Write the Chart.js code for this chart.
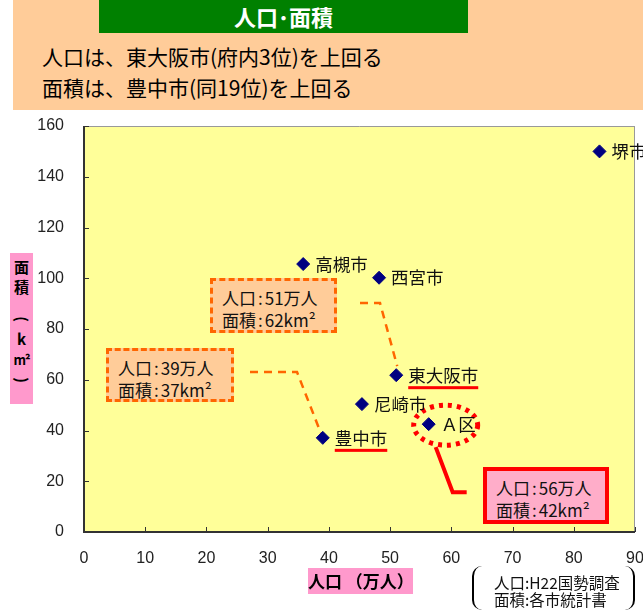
<!DOCTYPE html>
<html>
<head>
<meta charset="utf-8">
<script src="https://cdn.jsdelivr.net/npm/chart.js@4"></script>
<style>
  html, body { margin: 0; padding: 0; background: #fff; }
  #wrap { position: relative; width: 643px; height: 612px; overflow: hidden; font-family: "Noto Sans CJK JP", sans-serif; }
  #c { position: absolute; left: 0; top: 0; }
  .abs { position: absolute; white-space: nowrap; }
  #band { left: 13px; top: 0; width: 630px; height: 110px; background: #FFCC99; }
  #title { left: 99px; top: 0; width: 369px; height: 33px; background: #008000; color: #fff; font-weight: bold; font-size: 22px; line-height: 33px; text-align: center; }
  .sub { left: 42px; font-size: 21px; line-height: 30px; color: #000; }
  .callout { font-size: 17px; line-height: 22px; color: #111; padding: 6px 0 0 9px; box-sizing: border-box; }
  .callout .c { margin: 0 2px; }
  .orange { background: #FFCC99; border: 3px dashed #FF6600; }
  .red { background: #FFADC9; border: 4px solid #FF0000; }
  #ytitle { left: 10px; top: 253px; width: 23px; height: 151px; background: #FF99CC; font-weight: bold; font-size: 15px; line-height: 20px; text-align: center; color: #000; }
  #ytitle .r { display: inline-block; transform: rotate(90deg); }
  #ytitle .m { font-size: 13px; letter-spacing: -1px; }
  #xtitle { left: 308px; top: 568px; width: 105px; height: 26px; background: #FF99CC; font-weight: bold; font-size: 17px; line-height: 26px; text-align: center; color: #000; }
  #note { left: 472px; top: 566px; width: 163px; height: 44px; border-left: 2px solid #000; border-right: 2px solid #000; border-radius: 10px; box-sizing: border-box; font-size: 15.5px; line-height: 17px; padding: 8px 0 0 20px; color: #111; }
</style>
</head>
<body>
<div id="wrap">
  <canvas id="c" width="643" height="612"></canvas>
  <div class="abs" id="band"></div>
  <div class="abs" id="title">人口･面積</div>
  <div class="abs sub" style="top:41px">人口は、東大阪市(府内3位)を上回る</div>
  <div class="abs sub" style="top:72px">面積は、豊中市(同19位)を上回る</div>

  <div class="abs callout orange" style="left:210px;top:278px;width:127px;height:55px">人口<span class="c">:</span>51万人<br>面積<span class="c">:</span>62km²</div>
  <div class="abs callout orange" style="left:106px;top:348px;width:128px;height:54px">人口<span class="c">:</span>39万人<br>面積<span class="c">:</span>37km²</div>
  <div class="abs callout red" style="left:483px;top:467px;width:126px;height:57px">人口<span class="c">:</span>56万人<br>面積<span class="c">:</span>42km²</div>

  <div class="abs" id="ytitle"><div style="margin-top:4px">面<br>積</div><div style="margin-top:12px"><span class="r">(</span><br>k<br><span class="m">m²</span><br><span class="r">)</span></div></div>
  <div class="abs" id="xtitle">人口 （万人）</div>
  <div class="abs" id="note">人口:H22国勢調査<br>面積:各市統計書</div>
</div>
<script>
// データ(人口:万人, 面積:km²)
const cities = ['堺市', '高槻市', '西宮市', '東大阪市', '尼崎市', '豊中市', 'Ａ区'];
const population = [84.2, 35.8, 48.2, 51.0, 45.4, 39.0, 56.3];
const area = [150.0, 105.6, 100.2, 61.8, 50.4, 37.1, 42.5];
const xTicks = [0, 10, 20, 30, 40, 50, 60, 70, 80, 90];
const yTicks = [0, 20, 40, 60, 80, 100, 120, 140, 160];
const underlined = ['東大阪市', '豊中市'];

// 吹き出しの引き出し線(どの点に繋ぐか)
const leaders = [
    { city: '東大阪市', from: [360, 303], bend: [380, 303], off: [1, -9] },
    { city: '豊中市', from: [250, 372], bend: [297, 372], off: [-2, -5] }
];

const decorPlugin = {
    id: 'decor',
    beforeDraw(chart) {
        const { ctx, chartArea: a } = chart;
        ctx.save();
        ctx.fillStyle = '#FFFF99';
        ctx.fillRect(a.left, a.top, a.right - a.left, a.bottom - a.top);
        ctx.restore();
    },
    beforeDatasetsDraw(chart) {
        const { ctx, chartArea: a, scales } = chart;
        const sx = scales.x, sy = scales.y;
        ctx.save();
        // 枠
        ctx.strokeStyle = '#999';
        ctx.lineWidth = 1;
        ctx.beginPath();
        ctx.moveTo(a.left, a.top + 0.5); ctx.lineTo(a.right, a.top + 0.5);
        ctx.moveTo(a.right - 0.5, a.top); ctx.lineTo(a.right - 0.5, a.bottom);
        ctx.stroke();
        ctx.strokeStyle = '#333';
        ctx.lineWidth = 2;
        ctx.beginPath();
        ctx.moveTo(a.left, a.top); ctx.lineTo(a.left, a.bottom);
        ctx.lineTo(a.right, a.bottom);
        ctx.stroke();
        // 内向きの目盛り
        ctx.lineWidth = 1;
        xTicks.forEach(v => {
            const px = Math.round(sx.getPixelForValue(v)) + 0.5;
            ctx.beginPath(); ctx.moveTo(px, a.bottom); ctx.lineTo(px, a.bottom - 5); ctx.stroke();
        });
        yTicks.forEach(v => {
            const py = Math.round(sy.getPixelForValue(v)) + 0.5;
            ctx.beginPath(); ctx.moveTo(a.left, py); ctx.lineTo(a.left + 5, py); ctx.stroke();
        });

        // 引き出し線(破線)
        ctx.strokeStyle = '#FF6600';
        ctx.lineWidth = 2.5;
        ctx.setLineDash([8, 6]);
        leaders.forEach(l => {
            const i = cities.indexOf(l.city);
            const px = sx.getPixelForValue(population[i]);
            const py = sy.getPixelForValue(area[i]);
            ctx.beginPath();
            ctx.moveTo(l.from[0], l.from[1]);
            ctx.lineTo(l.bend[0], l.bend[1]);
            ctx.lineTo(px + l.off[0], py + l.off[1]);
            ctx.stroke();
        });

        // Ａ区の点線の楕円と赤い引き出し線
        const ia = cities.indexOf('Ａ区');
        const ax = sx.getPixelForValue(population[ia]);
        const ay = sy.getPixelForValue(area[ia]);
        ctx.strokeStyle = '#FF0000';
        ctx.lineWidth = 5;
        ctx.setLineDash([4, 5]);
        ctx.beginPath();
        ctx.ellipse(ax + 17, ay + 1, 32, 20, 0, 0, Math.PI * 2);
        ctx.stroke();
        ctx.setLineDash([]);
        ctx.lineWidth = 4;
        ctx.beginPath();
        ctx.moveTo(ax + 7, ay + 23);
        ctx.lineTo(ax + 24, ay + 68);
        ctx.lineTo(ax + 38, ay + 68);
        ctx.stroke();
        ctx.restore();
    },
    afterDatasetsDraw(chart) {
        const { ctx, scales } = chart;
        ctx.save();
        ctx.font = '17.5px "Noto Sans CJK JP"';
        ctx.fillStyle = '#111';
        ctx.textBaseline = 'middle';
        cities.forEach((c, i) => {
            const px = scales.x.getPixelForValue(population[i]);
            const py = scales.y.getPixelForValue(area[i]);
            const tx = px + 12;
            ctx.fillText(c, tx, py);
            if (underlined.includes(c)) {
                const w = ctx.measureText(c).width;
                ctx.fillStyle = '#FF0000';
                ctx.fillRect(tx, py + 11, w, 3);
                ctx.fillStyle = '#111';
            }
        });
        ctx.restore();
    }
};

new Chart(document.getElementById('c'), {
    type: 'scatter',
    data: {
        datasets: [{
            data: population.map((x, i) => ({ x: x, y: area[i] })),
            pointStyle: 'rectRot',
            pointRadius: 6.5,
            backgroundColor: '#000080',
            borderColor: '#000080',
            borderWidth: 1
        }]
    },
    options: {
        responsive: false,
        animation: false,
        layout: { padding: { top: 126, right: 8, left: 0, bottom: 0 } },
        plugins: { legend: { display: false }, tooltip: { enabled: false } },
        scales: {
            x: {
                type: 'linear',
                min: 0, max: 90,
                afterBuildTicks: s => { s.ticks = xTicks.map(v => ({ value: v })); },
                afterFit: s => { s.height = 80; s.paddingLeft = 0; s.paddingRight = 0; },
                grid: { display: false, drawTicks: false },
                border: { display: false },
                ticks: { color: '#222', padding: 17, font: { family: '"Liberation Sans", Arial', size: 16 } }
            },
            y: {
                type: 'linear',
                min: 0, max: 160,
                afterBuildTicks: s => { s.ticks = yTicks.map(v => ({ value: v })); },
                afterFit: s => { s.width = 84; s.paddingTop = 0; s.paddingBottom = 0; },
                grid: { display: false, drawTicks: false },
                border: { display: false },
                ticks: { color: '#222', padding: 20, font: { family: '"Liberation Sans", Arial', size: 16 } }
            }
        }
    },
    plugins: [decorPlugin]
});
</script>
</body>
</html>
